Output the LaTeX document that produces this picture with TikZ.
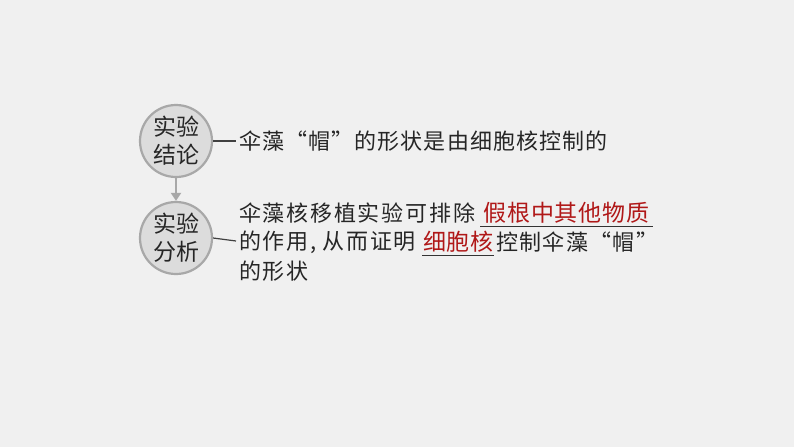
\documentclass[tikz,border=0pt]{standalone}
\usepackage{fontspec}
\newfontfamily\cjk{Noto Sans CJK SC}
\usetikzlibrary{arrows.meta}
\definecolor{bg}{HTML}{F0F0F0}
\definecolor{cfill}{HTML}{DCDCDC}
\definecolor{cline}{HTML}{A8A8A8}
\definecolor{redt}{HTML}{B01818}
\tikzset{
  circ/.style={circle,draw=cline,line width=2.2pt,fill=cfill,minimum size=72pt,inner sep=0pt,align=center,font=\cjk\fontsize{23}{28}\selectfont,text=black!85},
  txt/.style={anchor=west,inner sep=0pt,font=\cjk\fontsize{22}{28}\selectfont,text=black!85},
  redtxt/.style={txt,text=redt,font=\cjk\fontsize{23}{28}\selectfont},
  conn/.style={draw=black!75,line width=1.2pt},
  uline/.style={line width=0.9pt,draw=black!80},
}
\begin{document}
\begin{tikzpicture}[x=1pt,y=-1pt]
\fill[bg] (0,0) rectangle (794,447);
\useasboundingbox (0,0) rectangle (794,447);
\node[circ] (c1) at (176,141) {实验\\结论};
\node[circ] (c2) at (176,238) {实验\\分析};
\draw[draw=cline,line width=2.5pt,-{Triangle[length=8pt,width=10pt]}] (c1.south) -- (c2.north);
\node[txt] (t1) at (239,141) {\addfontfeature{LetterSpace=5}伞藻“帽”的形状是由细胞核控制的};
\coordinate (e1) at (236,141);
\draw[conn] (c1.east) -- (e1);
\node[txt] (t2) at (239,213) {\addfontfeature{LetterSpace=8}伞藻核移植实验可排除};
\node[redtxt] (t2r) at (483,213) {\addfontfeature{LetterSpace=4}假根中其他物质};
\draw[uline] (480,226) -- (653,226);
\node[txt] (t3a) at (239,242) {\addfontfeature{LetterSpace=8}的作用,\hspace{6pt}从而证明};
\node[redtxt] (t3r) at (423,242) {\addfontfeature{LetterSpace=3}细胞核};
\draw[uline] (422,255) -- (494,255);
\node[txt] (t3b) at (496,242) {\addfontfeature{LetterSpace=6}控制伞藻“帽”};
\node[txt] (t4) at (239,271) {\addfontfeature{LetterSpace=8}的形状};
\coordinate (e2) at (236,241);
\draw[conn] (c2.east) -- (e2);
\end{tikzpicture}
\end{document}
